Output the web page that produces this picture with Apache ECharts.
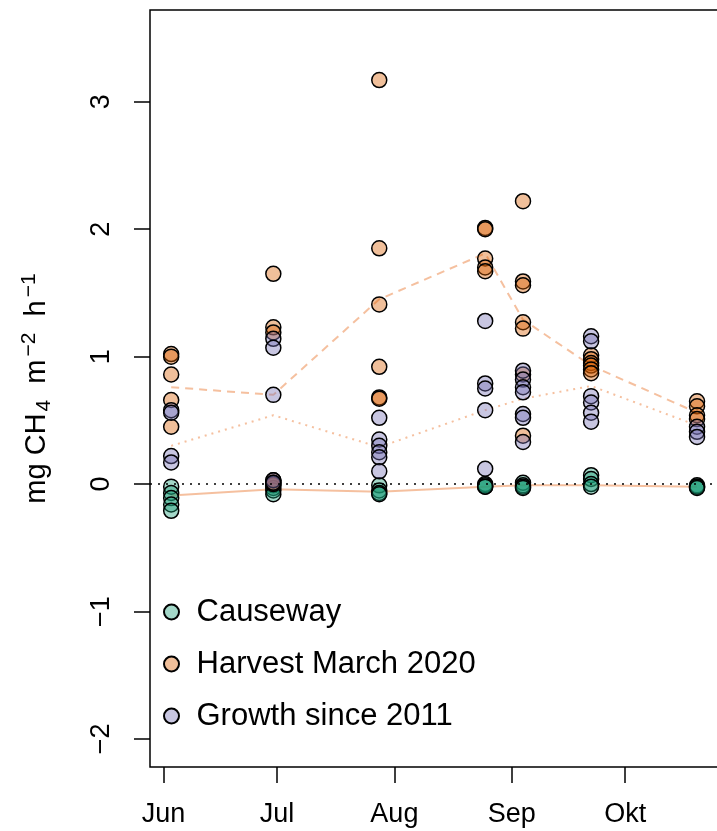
<!DOCTYPE html>
<html>
<head>
<meta charset="utf-8">
<script src="https://cdn.jsdelivr.net/npm/echarts@6/dist/echarts.min.js"></script>
<style>
html,body{margin:0;padding:0;background:#fff;}
#c{width:717px;height:831px;}
</style>
</head>
<body>
<div id="c"></div>
<script>
// sampling dates as days since 1 June
const sampleDays = [2, 29, 57, 85, 95, 113, 141];
// month ticks (days since 1 June) and labels
const monthDays = [0, 30, 61, 92, 122];
const monthLabels = ['Jun', 'Jul', 'Aug', 'Sep', 'Okt'];
const yTicks = [-2, -1, 0, 1, 2, 3];

// individual measurements per sampling date
const causeway = [
  [-0.02, -0.07, -0.11, -0.16, -0.21],
  [-0.01, -0.03, -0.05, -0.08],
  [-0.01, -0.05, -0.07, -0.08],
  [0.00, -0.01, -0.02, -0.02],
  [0.01, -0.01, -0.02, -0.03],
  [0.07, 0.04, 0.00, -0.02],
  [-0.01, -0.02, -0.02, -0.03]
];
const harvest = [
  [1.02, 1.00, 0.86, 0.66, 0.45],
  [1.65, 1.23, 1.19, 0.03, 0.01, 0.00],
  [3.17, 1.85, 1.41, 0.92, 0.68, 0.67],
  [2.01, 2.00, 1.77, 1.70, 1.67],
  [2.22, 1.59, 1.56, 1.27, 1.22, 0.86, 0.38],
  [1.01, 0.98, 0.95, 0.93, 0.90, 0.87],
  [0.65, 0.61, 0.54, 0.51]
];
const growth = [
  [0.58, 0.56, 0.22, 0.17],
  [1.14, 1.07, 0.70, 0.03, 0.01],
  [0.52, 0.35, 0.30, 0.25, 0.21, 0.10],
  [1.28, 0.79, 0.75, 0.58, 0.12],
  [0.89, 0.82, 0.76, 0.72, 0.55, 0.52, 0.33],
  [1.16, 1.12, 0.69, 0.64, 0.56, 0.49],
  [0.45, 0.41, 0.37]
];
// mean lines
const causewayMean = [-0.09, -0.04, -0.06, -0.02, -0.01, -0.01, -0.02];
const harvestMean = [0.76, 0.70, 1.45, 1.81, 1.29, 0.93, 0.56];
const growthMean = [0.30, 0.54, 0.29, 0.58, 0.67, 0.77, 0.46];

const names = ['Causeway', 'Harvest March 2020', 'Growth since 2011'];
const fills = ['rgba(27,158,119,0.4)', 'rgba(217,95,2,0.4)', 'rgba(117,112,179,0.4)'];
const lineColor = 'rgba(238,150,95,0.6)';
const FONT = 'Liberation Sans, Arial, sans-serif';

function points(groups) {
  const out = [];
  groups.forEach((vals, i) => vals.forEach(v => out.push([sampleDays[i], v])));
  return out;
}
function meanLine(vals) {
  return vals.map((v, i) => [sampleDays[i], v]);
}

const lineSeries = [
  {data: meanLine(causewayMean), type: 'solid'},
  {data: meanLine(harvestMean), type: [8, 6]},
  {data: meanLine(growthMean), type: [2, 5]}
].map((l, k) => ({
  type: 'line', data: l.data, symbol: 'none', silent: true, z: 1,
  lineStyle: {color: lineColor, width: 2, type: l.type}
}));
lineSeries[0].markLine = {
  silent: true, symbol: ['none', 'none'], label: {show: false},
  lineStyle: {color: '#000', type: [2, 6], width: 1.5},
  data: [{yAxis: 0}]
};

const scatterSeries = [causeway, harvest, growth].map((g, k) => ({
  name: names[k], type: 'scatter', data: points(g), symbol: 'circle', symbolSize: 15, z: 3,
  itemStyle: {color: fills[k], borderColor: '#000', borderWidth: 1.5, opacity: 1}
}));

const chart = echarts.init(document.getElementById('c'), null, {renderer: 'canvas'});
chart.setOption({
  animation: false,
  backgroundColor: '#fff',
  grid: {left: 150, top: 10, right: -5, bottom: 64, show: true, borderColor: '#000', borderWidth: 1.5,
         outerBoundsMode: 'none', containLabel: false},
  legend: {
    data: names, orient: 'vertical', left: 158, top: 589, itemGap: 16,
    itemWidth: 40, itemHeight: 15, icon: 'circle', symbolKeepAspect: true,
    textStyle: {fontFamily: FONT, fontSize: 31, color: '#000', lineHeight: 36}
  },
  xAxis: {
    type: 'value', min: -3.6, max: 147.6,
    axisLine: {show: false, onZero: false},
    axisTick: {show: true, customValues: monthDays, length: 16, lineStyle: {color: '#000', width: 1.5}},
    axisLabel: {customValues: monthDays, margin: 34, fontFamily: FONT, fontSize: 27, color: '#000',
      formatter: v => monthLabels[monthDays.indexOf(v)] || ''},
    splitLine: {show: false}
  },
  yAxis: {
    type: 'value', min: -2.22, max: 3.72,
    name: 'mg CH{sub|4}  m{sup|−2}  h{sup|−1}', nameLocation: 'middle', nameGap: 95, nameRotate: 90,
    nameMoveOverlap: false,
    nameTextStyle: {fontFamily: FONT, fontSize: 29, color: '#000', lineHeight: 36,
      rich: {
        sub: {fontFamily: FONT, fontSize: 21, color: '#000', verticalAlign: 'bottom', lineHeight: 36, padding: [0, 0, 0, 2]},
        sup: {fontFamily: FONT, fontSize: 21, color: '#000', verticalAlign: 'top', lineHeight: 36, padding: [0, 0, 0, 3]}
      }},
    axisLine: {show: false, onZero: false},
    axisTick: {show: true, customValues: yTicks, length: 16, lineStyle: {color: '#000', width: 1.5}},
    axisLabel: {customValues: yTicks, rotate: 90, margin: 35, fontFamily: FONT, fontSize: 27, color: '#000',
      formatter: v => (v < 0 ? '−' + Math.abs(v) : String(v))},
    splitLine: {show: false}
  },
  series: lineSeries.concat(scatterSeries)
});
</script>
</body>
</html>
